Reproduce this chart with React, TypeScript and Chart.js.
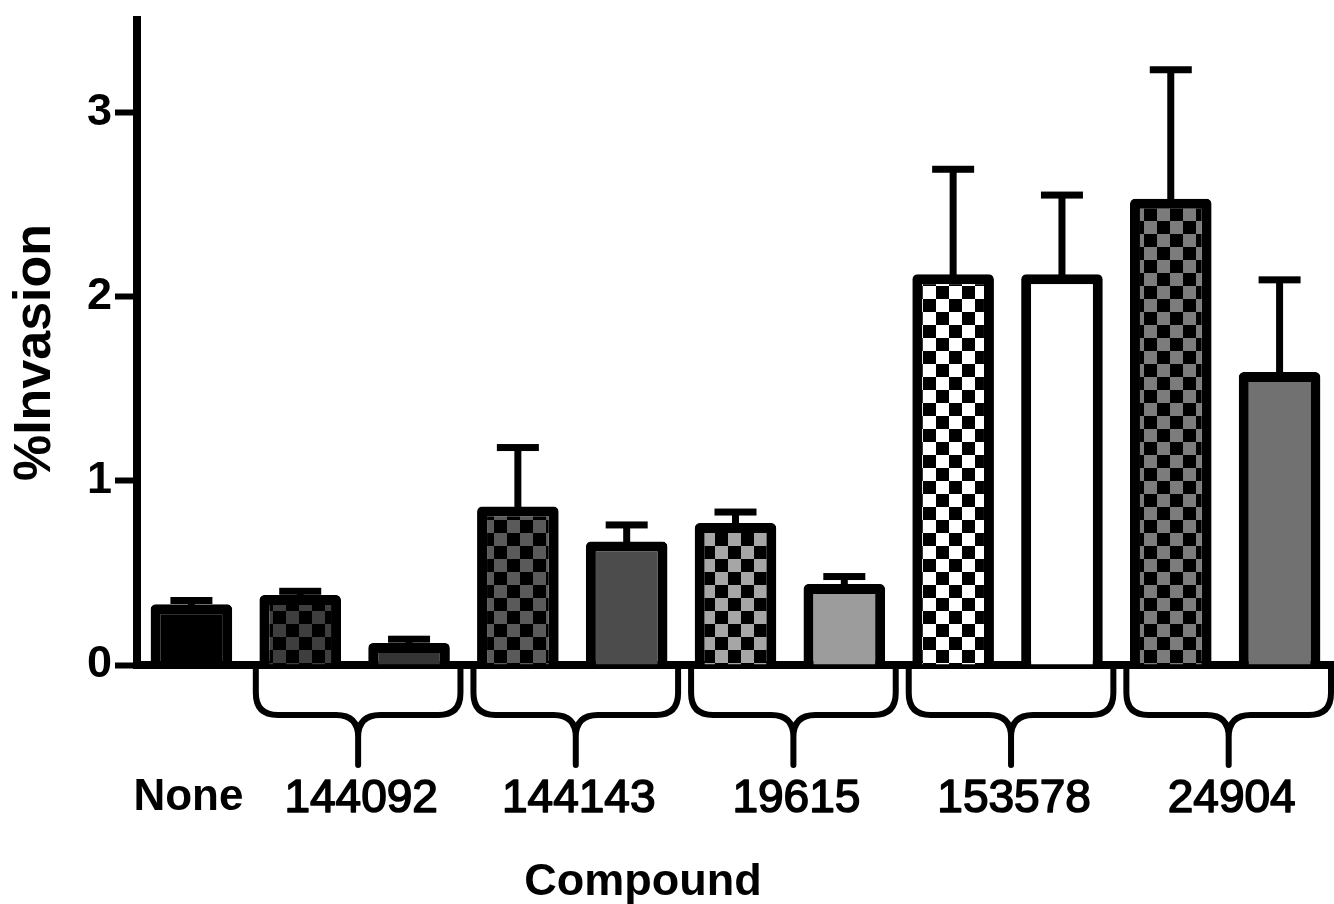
import React, { useEffect, useRef } from 'react';
import { Chart, registerables } from 'chart.js';

Chart.register(...registerables);

// ---- data ----
const groupLabels = ['None', '144092', '144143', '19615', '153578', '24904'];
const barLabels = [
  'None',
  '144092 (1)', '144092 (2)',
  '144143 (1)', '144143 (2)',
  '19615 (1)', '19615 (2)',
  '153578 (1)', '153578 (2)',
  '24904 (1)', '24904 (2)',
];
const barGroup = [0, 1, 1, 2, 2, 3, 3, 4, 4, 5, 5];
const means = [0.33, 0.38, 0.12, 0.86, 0.67, 0.77, 0.44, 2.12, 2.12, 2.53, 1.59];
const errors = [0.02, 0.02, 0.02, 0.32, 0.09, 0.06, 0.04, 0.57, 0.43, 0.70, 0.50];
const yTickValues = [0, 1, 2, 3];
const yMax = 3.5;
const xTitle = 'Compound';
const yTitle = '%Invasion';

// ---- styles ----
const fillColors = ['#000000', '#3e3e3e', '#343434', '#5a5a5a', '#4c4c4c', '#a6a6a6', '#9c9c9c', '#ffffff', '#ffffff', '#7c7c7c', '#717171'];
const checkered = [false, true, false, true, false, true, false, true, false, true, false];
const FONT = '"Liberation Sans", Arial, Helvetica, sans-serif';

function makeFill(ctx: CanvasRenderingContext2D, base: string, checker: boolean): any {
  if (!checker) return base;
  const n = 13;
  const c = document.createElement('canvas');
  c.width = n * 2;
  c.height = n * 2;
  const g = c.getContext('2d')!;
  g.fillStyle = base;
  g.fillRect(0, 0, n * 2, n * 2);
  g.fillStyle = '#000';
  g.fillRect(0, 0, n, n);
  g.fillRect(n, n, n, n);
  return ctx.createPattern(c, 'repeat');
}

const annotatePlugin = {
  id: 'annotate',
  afterDatasetsDraw(chart: any) {
    const { ctx, scales } = chart;
    const y = scales.y;
    const meta = chart.getDatasetMeta(0);
    ctx.save();
    ctx.fillStyle = '#000';
    ctx.strokeStyle = '#000';
    meta.data.forEach((bar: any, i: number) => {
      const base = y.getPixelForValue(means[i]);
      const top = y.getPixelForValue(means[i] + errors[i]);
      ctx.lineWidth = 7;
      ctx.beginPath();
      ctx.moveTo(bar.x, base + 4);
      ctx.lineTo(bar.x, top);
      ctx.stroke();
      ctx.fillRect(bar.x - 21, top - 3.5, 42, 7);
    });
    ctx.restore();
  },
  afterDraw(chart: any) {
    const { ctx, chartArea, scales } = chart;
    const x = scales.x;
    const pitch = x.getPixelForValue(1) - x.getPixelForValue(0);
    ctx.save();
    ctx.strokeStyle = '#000';
    ctx.fillStyle = '#000';
    ctx.lineWidth = 6;
    ctx.lineJoin = 'round';
    ctx.lineCap = 'round';
    const y0 = chartArea.bottom + 3;
    const yH = chartArea.bottom + 50;
    const yTip = chartArea.bottom + 100;
    const r = 22;
    ctx.textAlign = 'center';
    ctx.textBaseline = 'alphabetic';
    for (let g = 0; g < groupLabels.length; g++) {
      const idx = barGroup.map((v, i) => (v === g ? i : -1)).filter((i) => i >= 0);
      const first = x.getPixelForValue(idx[0]);
      const last = x.getPixelForValue(idx[idx.length - 1]);
      if (idx.length > 1) {
        const L = first - pitch / 2 + 10;
        const R = last + pitch / 2 - 3;
        const M = (L + R) / 2;
        ctx.lineWidth = 6;
        ctx.beginPath();
        ctx.moveTo(L, y0);
        ctx.lineTo(L, yH - r);
        ctx.quadraticCurveTo(L, yH, L + r, yH);
        ctx.lineTo(M - r, yH);
        ctx.quadraticCurveTo(M, yH, M, yH + r);
        ctx.lineTo(M, yTip);
        ctx.moveTo(R, y0);
        ctx.lineTo(R, yH - r);
        ctx.quadraticCurveTo(R, yH, R - r, yH);
        ctx.lineTo(M + r, yH);
        ctx.quadraticCurveTo(M, yH, M, yH + r);
        ctx.stroke();
        ctx.font = `46px ${FONT}`;
        ctx.lineWidth = 1.6;
        ctx.fillText(groupLabels[g], M + 3, chartArea.bottom + 147);
        ctx.strokeText(groupLabels[g], M + 3, chartArea.bottom + 147);
      } else {
        ctx.font = `bold 44px ${FONT}`;
        ctx.fillText(groupLabels[g], first - 3, chartArea.bottom + 145);
      }
    }
    // x title
    ctx.font = `bold 45px ${FONT}`;
    ctx.fillText(xTitle, 643, chartArea.bottom + 230);
    // y title
    ctx.save();
    ctx.font = `bold 52px ${FONT}`;
    ctx.translate(50, (chartArea.top + chartArea.bottom) / 2 + 10);
    ctx.rotate(-Math.PI / 2);
    ctx.textAlign = 'center';
    ctx.textBaseline = 'alphabetic';
    ctx.fillText(yTitle, 0, 0);
    ctx.restore();
    ctx.restore();
  },
};

export default function App() {
  const canvasRef = useRef<HTMLCanvasElement | null>(null);

  useEffect(() => {
    document.body.style.margin = '0';
    const canvas = canvasRef.current!;
    const ctx = canvas.getContext('2d')!;
    const fills = fillColors.map((c, i) => makeFill(ctx, c, checkered[i]));
    const chart = new Chart(canvas, {
      type: 'bar',
      data: {
        labels: barLabels,
        datasets: [
          {
            data: means,
            backgroundColor: fills,
            borderColor: '#000',
            borderWidth: 10,
            borderRadius: 5,
            barPercentage: 0.75,
            categoryPercentage: 1,
          },
        ],
      },
      options: {
        animation: false,
        responsive: false,
        devicePixelRatio: 1,
        layout: { padding: { top: 20, right: 0, bottom: 0, left: 0 } },
        plugins: { legend: { display: false }, tooltip: { enabled: false } },
        scales: {
          x: {
            type: 'category',
            offset: true,
            z: 1,
            grid: { display: false, drawTicks: false },
            border: { display: true, color: '#000', width: 8 },
            ticks: { display: false },
            afterFit: (s: any) => {
              s.height = 904 - 665;
              s.paddingLeft = 0;
              s.paddingRight = 0;
            },
          } as any,
          y: {
            type: 'linear',
            min: 0,
            max: yMax,
            z: 1,
            afterBuildTicks: (s: any) => {
              s.ticks = yTickValues.map((v) => ({ value: v }));
            },
            ticks: {
              color: '#000',
              padding: 3,
              font: { family: FONT, size: 45, weight: 'bold' },
            },
            grid: {
              display: true,
              drawOnChartArea: false,
              drawTicks: true,
              tickLength: 22,
              tickWidth: 6,
              tickColor: '#000',
              color: '#000',
            },
            border: { display: true, color: '#000', width: 8 },
            afterFit: (s: any) => {
              s.width = 137;
              s.paddingTop = 0;
              s.paddingBottom = 0;
            },
          } as any,
        },
      },
      plugins: [annotatePlugin],
    });
    return () => chart.destroy();
  }, []);

  return (
    <div style={{ width: 1334, height: 904, background: '#fff' }}>
      <canvas ref={canvasRef} width={1334} height={904} style={{ display: 'block' }} />
    </div>
  );
}
